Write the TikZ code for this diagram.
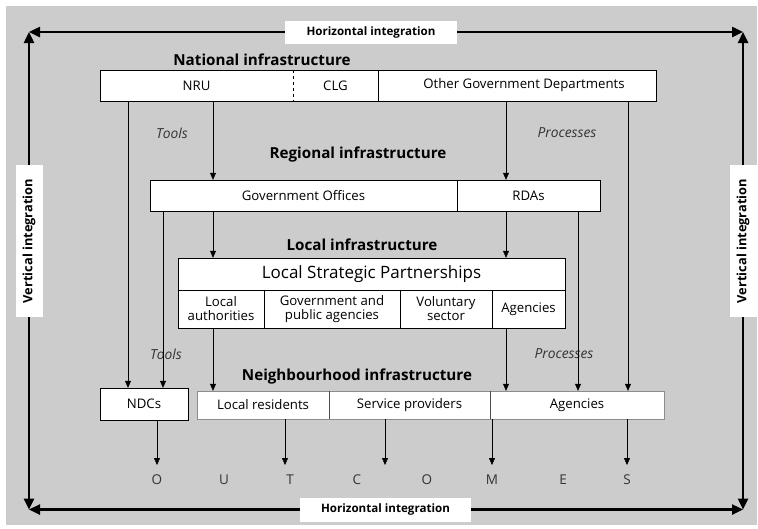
\documentclass[tikz,border=0pt]{standalone}
\usepackage{fontspec}
\setmainfont{Open Sans}
\usetikzlibrary{arrows.meta}

\begin{document}
\begin{tikzpicture}[x=1pt,y=-1pt]
\tikzstyle{cell} = [fill=white, inner sep=0pt, align=center, font=\fontsize{13.2}{14}\selectfont]
\tikzstyle{title} = [font=\fontsize{15.2}{17}\selectfont\bfseries]
\tikzstyle{tag} = [fill=white, inner sep=0pt, font=\fontsize{11.6}{13}\selectfont\bfseries]
\tikzstyle{note} = [font=\fontsize{13.8}{16}\selectfont\itshape, text=black!80]
\tikzstyle{letter} = [font=\fontsize{13.5}{16}\selectfont, text=black!80]
\tikzstyle{flow} = [-{Triangle[width=6pt,length=7pt]}, thin]
\tikzstyle{frame} = [-{Triangle[width=10pt,length=11pt]}, line width=2.4pt]

  \useasboundingbox (0,0) rectangle (758,528);
  \fill [black!20] (6,6) rectangle (757,525);

  % integration frame
  \coordinate (tl) at (29,32);
  \coordinate (tr) at (743,32);
  \coordinate (bl) at (29,509.5);
  \coordinate (br) at (743,509.5);
  \node (htop) [tag, minimum width=172, minimum height=23] at (371,32) {Horizontal integration};
  \node (hbot) [tag, minimum width=171, minimum height=24] at (385.5,509.5) {Horizontal integration};
  \node (vleft) [tag, rotate=90, minimum width=152, minimum height=27, font=\fontsize{12.8}{14}\selectfont\bfseries] at (29,241) {Vertical integration};
  \node (vright) [tag, rotate=90, minimum width=152, minimum height=27, font=\fontsize{12.8}{14}\selectfont\bfseries] at (743,241) {Vertical integration};
  \draw [frame] (htop) -- (tl);
  \draw [frame] (htop) -- (tr);
  \draw [frame] (hbot) -- (bl);
  \draw [frame] (hbot) -- (br);
  \draw [frame] (vleft) -- (tl);
  \draw [frame] (vleft) -- (bl);
  \draw [frame] (vright) -- (tr);
  \draw [frame] (vright) -- (br);

  % titles
  \node (natT) [title] at (262,60) {National infrastructure};
  \node (regT) [title] at (358,155) {Regional infrastructure};
  \node (locT) [title] at (362,245) {Local infrastructure};
  \node (nbhT) [title] at (357,377) {Neighbourhood infrastructure};

  % national
  \node (nru) [cell, minimum width=193, minimum height=31] at (196.5,85.5) {NRU};
  \node (clg) [cell, minimum width=85, minimum height=31] at (335.5,85.5) {CLG};
  \node (ogd) [cell, minimum width=278, minimum height=31] at (517,85.5) {\hspace{14pt}Other Government Departments};
  \draw (nru.north west) rectangle (ogd.south east);
  \draw [dashed] (nru.north east) -- (nru.south east);
  \draw (clg.north east) -- (clg.south east);

  % regional
  \node (gov) [cell, minimum width=307, minimum height=31] at (303.5,195.5) {Government Offices};
  \node (rda) [cell, minimum width=143, minimum height=31] at (528.5,195.5) {RDAs};
  \draw (gov.north west) rectangle (rda.south east);
  \draw (gov.north east) -- (gov.south east);

  % local
  \node (lsp) [cell, minimum width=387, minimum height=32, font=\fontsize{17}{18}\selectfont] at (371.5,274) {Local Strategic Partnerships};
  \node (la) [cell, minimum width=86, minimum height=38] at (221,309) {Local\\authorities};
  \node (gpa) [cell, minimum width=136, minimum height=38] at (332,309) {Government and\\public agencies\hspace{8pt}};
  \node (vol) [cell, minimum width=92, minimum height=38] at (446,309) {Voluntary\\sector};
  \node (lag) [cell, minimum width=73, minimum height=38] at (528.5,309) {Agencies};
  \draw (lsp.north west) rectangle (lag.south east);
  \draw (la.north west) -- (lag.north east);
  \foreach \c in {la,gpa,vol}
    \draw (\c.north east) -- (\c.south east);

  % neighbourhood
  \node (ndc) [cell, draw, minimum width=88, minimum height=32] at (144,404) {NDCs};
  \node (res) [cell, minimum width=132, minimum height=28] at (263,405) {Local residents};
  \node (srv) [cell, minimum width=161, minimum height=28] at (409.5,405) {Service providers};
  \node (nag) [cell, minimum width=174, minimum height=28] at (577,405) {Agencies};
  \draw [black!45] (res.north west) rectangle (nag.south east);
  \draw [black!70] (res.north east) -- (res.south east);
  \draw [black!70] (srv.north east) -- (srv.south east);

  % tools and processes
  \node (tools1) [note] at (172,133) {Tools};
  \node (proc1) [note] at (567,133) {Processes};
  \node (tools2) [note] at (166,354) {Tools};
  \node (proc2) [note] at (564,354) {Processes};

  % outcomes
  \foreach \l/\x [count=\i] in {O/157,U/224,T/290,C/357,O/427,M/492,E/563,S/627}
    \node (o\i) [letter] at (\x,480) {\l};
  \coordinate (out) at (0,465);

  % vertical flows
  \coordinate (a1) at (128,0);
  \coordinate (a2) at (213,0);
  \coordinate (a3) at (506,0);
  \coordinate (a4) at (628,0);
  \coordinate (a5) at (163,0);
  \coordinate (a6) at (578,0);
  \draw [flow] (a1 |- nru.south) -- (a1 |- ndc.north);
  \draw [flow] (a2 |- nru.south) -- (a2 |- gov.north);
  \draw [flow] (a3 |- ogd.south) -- (a3 |- rda.north);
  \draw [flow] (a4 |- ogd.south) -- (a4 |- nag.north);
  \draw [flow] (a5 |- gov.south) -- (a5 |- ndc.north);
  \draw [flow] (a2 |- gov.south) -- (a2 |- lsp.north);
  \draw [flow] (a3 |- rda.south) -- (a3 |- lsp.north);
  \draw [flow] (a6 |- rda.south) -- (a6 |- nag.north);
  \draw [flow] (a2 |- la.south) -- (a2 |- res.north);
  \draw [flow] (a3 |- lag.south) -- (a3 |- nag.north);

  % to outcomes
  \draw [flow] (o1 |- ndc.south) -- (o1 |- out);
  \draw [flow] (285,0 |- res.south) -- (285,0 |- out);
  \draw [flow] (385,0 |- srv.south) -- (385,0 |- out);
  \draw [flow] (o6 |- srv.south) -- (o6 |- out);
  \draw [flow] (o8 |- nag.south) -- (o8 |- out);
\end{tikzpicture}
\end{document}
